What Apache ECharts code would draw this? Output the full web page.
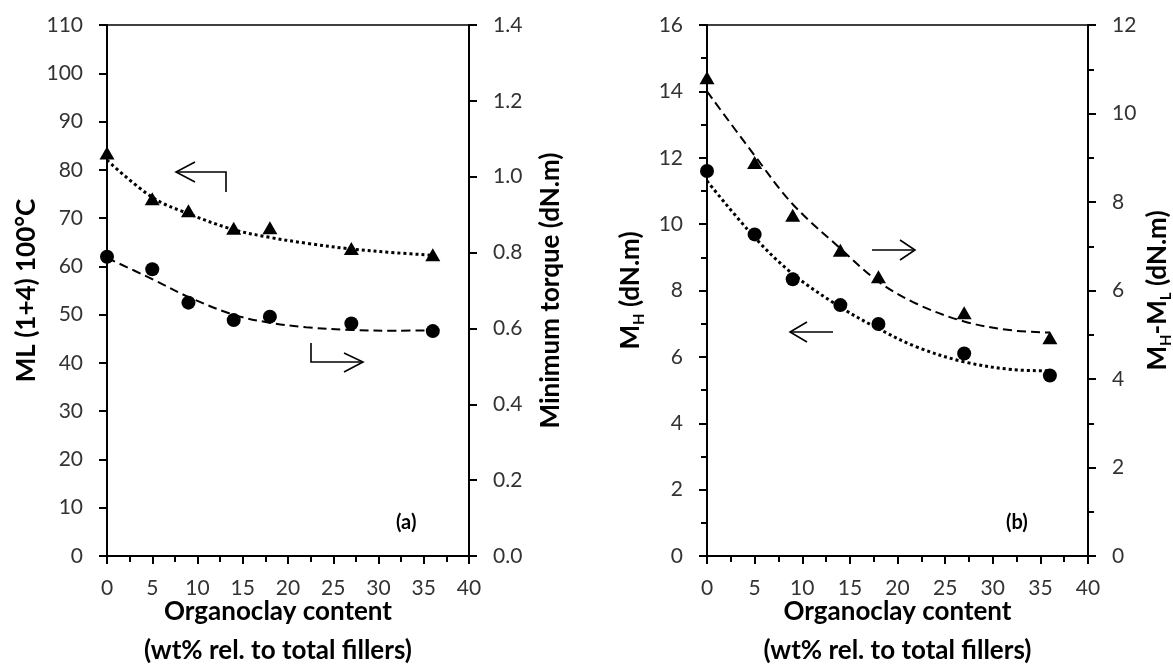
<!DOCTYPE html>
<html>
<head>
<meta charset="utf-8">
<script src="https://cdn.jsdelivr.net/npm/echarts@6/dist/echarts.min.js"></script>
<style>
html,body{margin:0;padding:0;background:#fff;}
#c{width:1173px;height:666px;}
</style>
</head>
<body>
<div id="c"></div>
<script>
// ---------- data ----------
const contentX = [0, 5, 9, 14, 18, 27, 36];
const mlValues = [83.5, 74.0, 71.5, 67.9, 68.0, 63.7, 62.4];           // ML(1+4) 100°C, left axis (a)
const minTorqueValues = [0.789, 0.756, 0.668, 0.622, 0.631, 0.613, 0.593]; // minimum torque, right axis (a)
const mhValues = [11.60, 9.69, 8.34, 7.56, 6.99, 6.10, 5.44];          // MH, left axis (b)
const mhmlValues = [10.81, 8.89, 7.70, 6.91, 6.31, 5.50, 4.93];         // MH-ML, right axis (b)

// trend lines
const trendX = [0, 5, 9, 14, 18, 22, 27, 32, 36];
const mlTrend = [82.0, 74.3, 70.9, 67.6, 66.0, 64.8, 63.6, 62.8, 62.3];
const torqueTrend = [0.786, 0.730, 0.683, 0.636, 0.615, 0.603, 0.596, 0.594, 0.595];
const mhTrend = [11.3, 9.6, 8.5, 7.5, 6.85, 6.3, 5.85, 5.62, 5.58];
const mhmlTrend = [10.5, 9.05, 7.95, 6.95, 6.2, 5.7, 5.3, 5.1, 5.05];

const xTicks = {min: 0, max: 40, interval: 5};

// ---------- helpers ----------
const zip = (xs, ys) => xs.map((x, i) => [x, ys[i]]);
const FONT = 'Lato';
const labelStyle = {color: '#333', fontSize: 21, fontFamily: FONT};
const nameStyle = {color: '#000', fontSize: 26, fontWeight: 'bold', fontFamily: FONT};
const axLine = {show: true, onZero: false, lineStyle: {color: '#000', width: 2}};
const tickStyle = {color: '#000', width: 2};

function xAxisFor(grid, pad) {
  return {
    gridIndex: grid, type: 'value', min: xTicks.min, max: xTicks.max, interval: xTicks.interval,
    axisLine: axLine,
    axisTick: {show: true, inside: false, length: 8, lineStyle: tickStyle},
    minorTick: {show: true, splitNumber: 2, length: 6, lineStyle: {color: '#000', width: 2}},
    splitLine: {show: false},
    axisLabel: Object.assign({margin: 22}, labelStyle),
    name: 'Organoclay content\n(wt% rel. to total fillers)',
    nameLocation: 'middle', nameGap: 36, nameMoveOverlap: false,
    nameTextStyle: Object.assign({lineHeight: 39, padding: pad}, nameStyle)
  };
}
function yAxisFor(grid, pos, min, max, interval, minor, fmt, name, gap, rich) {
  const ax = {
    gridIndex: grid, type: 'value', position: pos, min: min, max: max, interval: interval,
    axisLine: axLine,
    axisTick: {show: true, inside: false, length: 8, lineStyle: tickStyle},
    minorTick: {show: minor, splitNumber: 2, length: 6, lineStyle: {color: '#000', width: 2}},
    splitLine: {show: false},
    axisLabel: Object.assign({margin: 24, formatter: fmt}, labelStyle),
    name: name, nameLocation: 'middle', nameGap: gap, nameRotate: 90, nameMoveOverlap: false,
    nameTextStyle: Object.assign({}, nameStyle)
  };
  if (rich) ax.nameTextStyle.rich = rich;
  return ax;
}
const subRich = {
  b: {fontSize: 26, fontWeight: 'bold', fontFamily: FONT, color: '#000', lineHeight: 27, verticalAlign: 'top'},
  s: {fontSize: 15, fontWeight: 'bold', fontFamily: FONT, color: '#000', lineHeight: 15, padding: [15, 0, 0, 0]}
};

function scatter(xi, yi, data, sym, size) {
  return {type: 'scatter', xAxisIndex: xi, yAxisIndex: yi, data: data, symbol: sym, symbolSize: size,
    itemStyle: {color: '#000', opacity: 1}, clip: false, z: 5, silent: true};
}
function trend(xi, yi, data, dash, width) {
  return {type: 'line', xAxisIndex: xi, yAxisIndex: yi, data: data, smooth: 0.35, showSymbol: false,
    symbol: 'none', lineStyle: {color: '#000', width: width, type: dash, cap: 'butt'}, z: 3, silent: true};
}

function arrow(points, head) {
  return [
    {type: 'polyline', shape: {points: points}, style: {stroke: '#000', lineWidth: 1.6, fill: null}},
    {type: 'polyline', shape: {points: head}, style: {stroke: '#000', lineWidth: 1.6, fill: null}}
  ];
}

const gridBase = {top: 25, bottom: 110, show: true, borderColor: '#000', borderWidth: 1.5,
  backgroundColor: 'transparent', containLabel: false, outerBoundsMode: 'none'};

const chart = echarts.init(document.getElementById('c'), null, {renderer: 'canvas'});
chart.setOption({
  animation: false,
  backgroundColor: '#fff',
  grid: [
    Object.assign({left: 107, right: 704}, gridBase),
    Object.assign({left: 707, right: 85}, gridBase)
  ],
  xAxis: [xAxisFor(0, [0, 20, 0, 0]), xAxisFor(1, [0, 0, 0, 0])],
  yAxis: [
    yAxisFor(0, 'left', 0, 110, 10, false, v => String(v), 'ML (1+4) 100°C', 67, null),
    yAxisFor(0, 'right', 0, 1.4, 0.2, false, v => v.toFixed(1), 'Minimum torque (dN.m)', 69, null),
    yAxisFor(1, 'left', 0, 16, 2, true, v => String(v), '{b|M}{s|H}{b| (dN.m)}', 62, subRich),
    yAxisFor(1, 'right', 0, 12, 2, true, v => String(v), '{b|M}{s|H}{b|-M}{s|L}{b| (dN.m)}', 57, subRich)
  ],
  series: [
    trend(0, 0, zip(trendX, mlTrend), [3, 3], 3),
    trend(0, 1, zip(trendX, torqueTrend), [9, 5], 2),
    scatter(0, 0, zip(contentX, mlValues), 'triangle', [15, 13]),
    scatter(0, 1, zip(contentX, minTorqueValues), 'circle', 14),
    trend(1, 2, zip(trendX, mhTrend), [3, 3], 3),
    trend(1, 3, zip(trendX, mhmlTrend), [9, 5], 2),
    scatter(1, 2, zip(contentX, mhValues), 'circle', 14),
    scatter(1, 3, zip(contentX, mhmlValues), 'triangle', [15, 13])
  ],
  graphic: [].concat(
    arrow([[226, 192], [226, 172], [176, 172]], [[195, 162], [176, 172], [195, 182]]),
    arrow([[311, 343], [311, 362], [363, 362]], [[344, 353], [363, 362], [344, 372]]),
    arrow([[872, 250], [915, 250]], [[900, 240], [915, 250], [900, 260]]),
    arrow([[833, 332], [790, 332]], [[807, 322], [790, 332], [807, 342]]),
    [
      {type: 'text', left: 396, top: 513, style: {text: '(a)', font: 'bold 20px Lato', fill: '#000'}},
      {type: 'text', left: 1006, top: 513, style: {text: '(b)', font: 'bold 20px Lato', fill: '#000'}}
    ]
  )
});
</script>
</body>
</html>
